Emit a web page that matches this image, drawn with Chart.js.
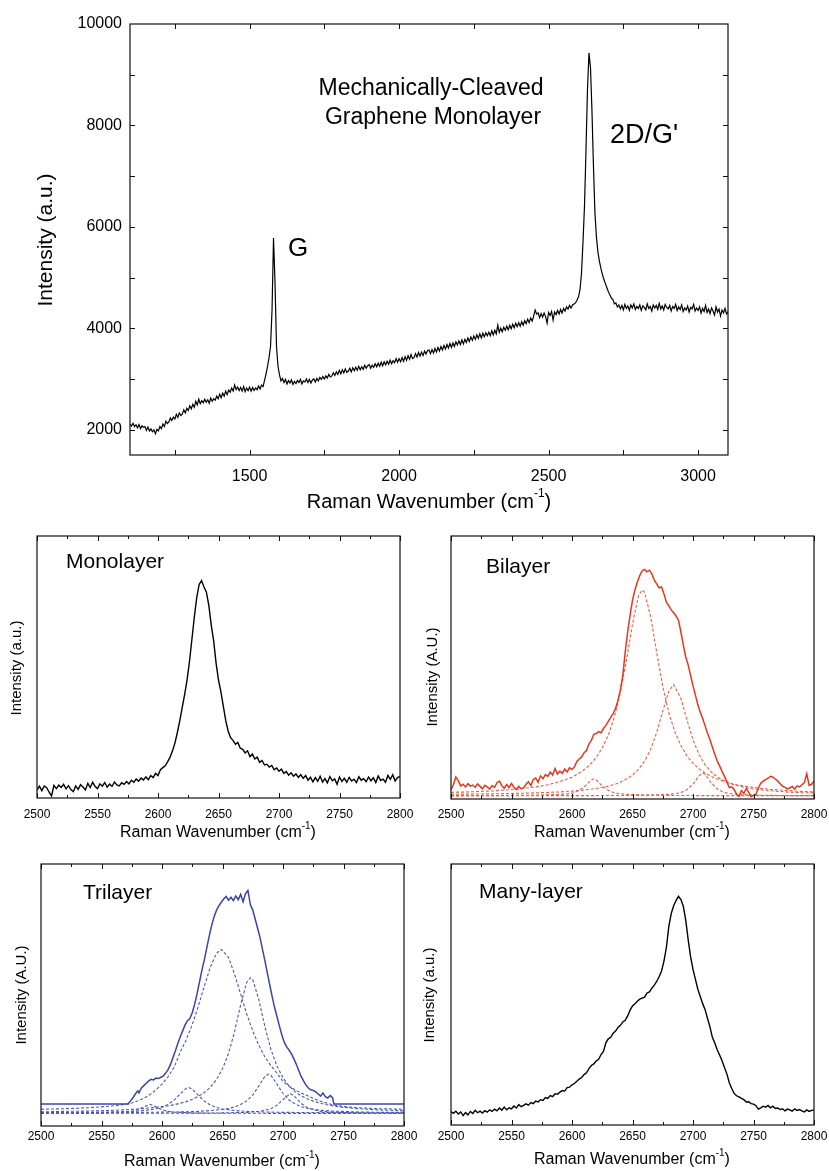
<!DOCTYPE html>
<html>
<head>
<meta charset="utf-8">
<script src="https://cdn.jsdelivr.net/npm/chart.js@4.4.1/dist/chart.umd.min.js"></script>
<style>
  html, body { margin: 0; padding: 0; background: #fff; }
  #wrap { position: relative; width: 829px; height: 1171px; }
  canvas { position: absolute; }
</style>
</head>
<body>
<div id="wrap">
  <canvas id="full"></canvas>
  <canvas id="mono"></canvas>
  <canvas id="bi"></canvas>
  <canvas id="tri"></canvas>
  <canvas id="many"></canvas>
</div>
<script>
const FONT = "'Liberation Sans', Arial, Helvetica, sans-serif";

// wavenumber grids (cm-1)
const seq = (a, b, s) => Array.from({ length: Math.round((b - a) / s) + 1 }, (_, i) => a + i * s);
const fullWave = seq(1100, 3100, 5);
const zoomWave = seq(2500, 2800, 2);

// full spectrum, 1100-3100 cm-1
const fullCounts = [
  2110, 2070, 2125, 2060, 2095, 2035, 2100, 2020, 2075, 2045, 2060, 1985, 2050, 1975, 2015, 1960, 1995, 1920, 2005, 1975,
  2060, 2020, 2110, 2060, 2165, 2120, 2150, 2230, 2180, 2245, 2210, 2300, 2240, 2330, 2280, 2310, 2390, 2330, 2420, 2380,
  2470, 2410, 2500, 2440, 2560, 2490, 2600, 2510, 2570, 2530, 2600, 2540, 2590, 2520, 2620, 2560, 2610, 2580, 2660, 2610,
  2700, 2630, 2720, 2660, 2760, 2690, 2780, 2740, 2820, 2760, 2880, 2790, 2840, 2770, 2830, 2760, 2850, 2750, 2820, 2770,
  2840, 2760, 2830, 2770, 2820, 2790, 2860, 2800, 2880, 2850, 2970, 3100, 3250, 3420, 3640, 4350, 5780, 4900, 3640, 3250,
  3080, 2960, 3010, 2930, 2990, 2900, 2970, 2920, 2980, 2890, 2950, 2910, 2970, 2930, 2990, 2900, 2960, 2940, 3000, 2930,
  2990, 2920, 2980, 3000, 2940, 3010, 2960, 3030, 2990, 3050, 3000, 3060, 3020, 3090, 3040, 3060, 3120, 3070, 3140, 3090,
  3170, 3100, 3180, 3120, 3200, 3130, 3150, 3210, 3140, 3220, 3160, 3230, 3170, 3250, 3180, 3240, 3190, 3270, 3210, 3260,
  3280, 3210, 3270, 3230, 3300, 3240, 3310, 3250, 3330, 3260, 3340, 3280, 3350, 3290, 3370, 3300, 3360, 3320, 3400, 3330,
  3400, 3340, 3420, 3350, 3440, 3370, 3460, 3390, 3480, 3400, 3420, 3500, 3430, 3520, 3450, 3530, 3460, 3550, 3490, 3560,
  3570, 3500, 3580, 3510, 3600, 3530, 3620, 3550, 3640, 3570, 3660, 3590, 3680, 3610, 3700, 3620, 3710, 3640, 3730, 3670,
  3750, 3680, 3770, 3690, 3780, 3720, 3810, 3740, 3830, 3760, 3850, 3780, 3870, 3800, 3890, 3810, 3900, 3830, 3910, 3850,
  3920, 3850, 3950, 3870, 3960, 3890, 4060, 3920, 4000, 3930, 4020, 3960, 4040, 3970, 4060, 3990, 4080, 4010, 4100, 4030,
  4110, 4040, 4130, 4060, 4150, 4090, 4180, 4110, 4200, 4140, 4240, 4360, 4280, 4300, 4210, 4290, 4220, 4300, 4230, 4100,
  4310, 4250, 4330, 4160, 4320, 4270, 4350, 4280, 4370, 4300, 4390, 4340, 4420, 4380, 4450, 4400, 4460, 4480, 4500, 4550,
  4620, 4760, 5080, 5700, 6400, 7500, 8700, 9430, 9150, 8300, 7200, 6270, 5800, 5500, 5320, 5180, 5060, 4960, 4880, 4800,
  4720, 4660, 4590, 4570, 4480, 4500, 4420, 4460, 4380, 4450, 4360, 4470, 4390, 4440, 4350, 4460, 4400, 4480, 4370, 4430,
  4390, 4460, 4350, 4440, 4410, 4360, 4480, 4390, 4430, 4340, 4460, 4400, 4450, 4370, 4490, 4380, 4440, 4360, 4470, 4410,
  4380, 4450, 4340, 4430, 4390, 4470, 4350, 4420, 4370, 4460, 4330, 4400, 4360, 4440, 4320, 4410, 4380, 4470, 4340, 4400,
  4350, 4420, 4300, 4390, 4330, 4450, 4310, 4380, 4290, 4400, 4340, 4260, 4420, 4320, 4380, 4240, 4360, 4300, 4390, 4280,
  4330
];

// 2D band close-ups, 2500-2800 cm-1 (normalised intensity)
const monoCounts = [
  3.0, 4.5, 2.8, 4.6, 3.9, 2.2, 0.8, 4.8, 3.6, 4.9,
  4.0, 5.2, 3.5, 4.7, 3.2, 2.4, 4.6, 3.3, 5.1, 4.2,
  3.1, 5.6, 4.0, 6.0, 4.4, 3.6, 5.4, 4.5, 5.9, 4.1,
  5.3, 4.4, 6.1, 5.0, 4.6, 5.8, 5.2, 6.3, 5.4, 6.8,
  6.0, 7.2, 6.4, 7.6, 6.9, 8.1, 7.0, 8.6, 7.8, 9.4,
  8.6, 10.8, 11.6, 12.3, 13.9, 15.6, 18.0, 21.0, 25.0, 29.5,
  34.5, 39.5, 45.0, 52.0, 60.5, 69.0, 76.5, 81.5, 83.0, 80.5,
  78.5, 73.5, 66.0, 60.0, 51.5, 45.0, 40.5, 35.0, 29.5, 25.5,
  23.0, 22.0, 20.5, 21.2, 19.0, 18.6, 17.2, 18.0, 15.8, 16.8,
  14.9, 15.6, 13.6, 14.3, 12.6, 12.9, 11.8, 12.4, 10.8, 11.5,
  10.2, 11.0, 9.4, 10.1, 8.7, 9.6, 8.3, 9.2, 7.9, 8.9,
  7.5, 8.6, 6.8, 7.9, 6.2, 7.8, 6.4, 8.3, 6.1, 7.4,
  5.8, 8.2, 6.6, 7.3, 5.2, 8.0, 6.3, 7.5, 6.0, 7.9,
  6.5, 7.2, 5.9, 8.1, 6.8, 7.4, 6.2, 8.0, 6.6, 7.7,
  5.9, 8.4, 6.7, 7.2, 6.0, 8.6, 7.1, 8.9, 6.5, 7.8,
  8.2
];

const biCounts = [
  3.5, 5.5, 8.4, 7.0, 5.0, 5.6, 4.6, 5.8, 4.9, 5.3,
  4.4, 5.7, 4.8, 3.9, 5.2, 4.6, 3.8, 5.1, 4.4, 6.2,
  6.8, 5.0, 4.1, 5.5, 4.3, 5.9, 4.5, 3.6, 4.8, 3.9,
  4.2, 5.6, 6.6, 5.1, 7.4, 8.0, 6.4, 8.8, 7.7, 9.3,
  8.6, 10.2, 9.1, 11.6, 9.5, 10.6, 9.8, 11.4, 10.3, 11.9,
  11.2, 12.2, 14.3, 15.2, 16.0, 17.6, 18.4, 21.0, 22.3, 24.6,
  24.9, 25.6, 25.2, 26.8, 28.0, 29.5, 31.0, 32.5, 34.5, 37.5,
  41.5, 47.0, 56.0, 63.5, 70.0, 75.5, 79.5, 82.5, 85.0, 86.8,
  87.3, 86.4, 87.0, 85.6, 83.2, 81.8, 80.3, 80.6, 78.0, 74.8,
  73.5, 71.9, 70.8, 69.6, 68.0, 63.5, 58.5, 54.0, 51.0, 47.0,
  43.0, 39.5, 35.8, 33.0, 30.6, 27.8, 25.0, 22.6, 19.8, 17.0,
  14.5, 12.6, 10.5, 8.6, 6.5, 4.3, 4.6, 3.6, 1.9, 1.0,
  3.2, 2.1, 4.0, 2.5, 0.9, 1.4, 1.8, 4.2, 6.0, 6.8,
  7.4, 7.9, 8.6, 8.3, 7.6, 6.9, 5.8, 4.9, 4.4, 3.9,
  4.2, 4.8, 3.8, 5.0, 4.6, 5.4, 6.2, 9.6, 5.2, 5.6,
  6.8
];

const manyCounts = [
  5.1, 4.5, 5.3, 4.2, 5.0, 3.6, 4.8, 3.9, 5.2, 4.4,
  5.6, 4.7, 5.3, 4.6, 5.5, 4.9, 5.8, 5.2, 6.1, 5.4,
  6.5, 5.7, 6.9, 5.8, 6.6, 6.2, 7.3, 6.5, 7.8, 7.0,
  7.5, 8.1, 7.6, 8.6, 8.2, 9.2, 8.8, 9.7, 9.4, 10.5,
  10.2, 11.3, 10.9, 12.0, 11.8, 12.6, 13.2, 13.0, 14.3, 14.5,
  15.4, 15.9, 16.8, 17.6, 18.2, 19.3, 20.0, 21.6, 22.8, 23.4,
  24.5, 25.2, 27.0, 28.2, 31.5, 33.0, 33.6, 35.2, 36.0, 37.4,
  38.2, 39.5, 40.1, 41.8, 44.0, 45.6, 46.5, 47.4, 48.2, 48.6,
  49.0, 50.6, 51.0, 52.4, 53.6, 55.0, 56.8, 59.0, 62.8, 68.0,
  76.0, 81.0, 84.0, 86.0, 87.6, 86.4, 83.8, 78.5, 71.0, 64.5,
  59.6, 55.8, 52.0, 49.2, 46.5, 44.2, 40.8, 37.6, 33.6, 31.4,
  28.8, 26.8, 24.6, 22.0, 19.6, 16.2, 14.0, 12.1, 11.2, 10.8,
  10.2, 9.7, 8.8, 8.9, 8.2, 8.0, 7.4, 6.1, 6.6, 7.2,
  6.8, 7.5, 6.6, 7.2, 6.3, 6.5, 5.9, 6.2, 5.4, 6.1,
  5.8, 5.3, 6.2, 5.6, 5.9, 5.4, 5.0, 5.8, 5.2, 5.6,
  5.7
];

// trilayer spectrum as [wavenumber, intensity]
const triCounts = [
  [2500, 8.4], [2572, 8.4], [2574, 9.6], [2576, 10.8], [2578, 12.2], [2580, 13.4], [2581, 12.6], [2583, 14.5],
  [2585, 15.4], [2587, 16.3], [2589, 17.2], [2591, 17.8], [2593, 17.6], [2595, 18.3], [2597, 18.1], [2599, 18.6],
  [2601, 19.0], [2603, 20.2], [2605, 21.5], [2607, 23.5], [2609, 26.0], [2611, 28.6], [2613, 31.4], [2615, 34.0],
  [2617, 36.2], [2619, 38.5], [2621, 40.2], [2623, 41.0], [2625, 43.2], [2627, 46.5], [2629, 50.5], [2631, 55.0],
  [2633, 59.5], [2635, 63.5], [2637, 68.0], [2639, 72.5], [2641, 76.5], [2643, 79.8], [2645, 82.3], [2647, 84.0],
  [2649, 85.4], [2651, 86.6], [2653, 87.6], [2655, 86.2], [2657, 87.3], [2659, 86.0], [2661, 87.8], [2663, 86.4],
  [2665, 88.4], [2667, 85.6], [2669, 88.6], [2671, 89.9], [2673, 84.5], [2675, 82.4], [2677, 79.0], [2679, 75.5],
  [2681, 72.0], [2683, 67.5], [2685, 63.2], [2687, 58.5], [2689, 54.0], [2691, 49.5], [2693, 45.3], [2695, 41.8],
  [2697, 38.2], [2699, 34.8], [2701, 32.0], [2703, 30.2], [2705, 29.0], [2707, 27.5], [2709, 25.6], [2711, 23.6],
  [2713, 21.2], [2715, 18.9], [2717, 17.2], [2719, 15.6], [2721, 14.5], [2723, 13.8], [2725, 13.6], [2727, 13.0],
  [2729, 12.3], [2731, 11.4], [2733, 12.6], [2735, 11.2], [2737, 10.7], [2739, 11.6], [2741, 10.8], [2742, 8.4],
  [2800, 8.4]
];

// Lorentzian fit components, bilayer
const biFitMain = [
  [2500, 2.5], [2505, 2.6], [2510, 2.6], [2515, 2.7], [2520, 2.8], [2525, 2.9], [2530, 3.0], [2535, 3.1], [2540, 3.3],
  [2545, 3.4], [2550, 3.6], [2555, 3.8], [2560, 4.1], [2565, 4.3], [2570, 4.6], [2575, 5.0], [2580, 5.4], [2585, 6.0],
  [2590, 6.6], [2595, 7.4], [2600, 8.3], [2605, 9.6], [2610, 11.1], [2615, 13.1], [2620, 15.8], [2625, 19.4],
  [2630, 24.3], [2635, 31.1], [2640, 40.5], [2645, 52.8], [2650, 66.5], [2655, 77.4], [2658, 79.5], [2660, 78.6],
  [2665, 69.3], [2670, 55.7], [2675, 42.8], [2680, 32.8], [2685, 25.5], [2690, 20.3], [2695, 16.4], [2700, 13.6],
  [2705, 11.5], [2710, 9.8], [2715, 8.6], [2720, 7.6], [2725, 6.8], [2730, 6.1], [2735, 5.5], [2740, 5.1], [2745, 4.7],
  [2750, 4.4], [2755, 4.1], [2760, 3.9], [2765, 3.6], [2770, 3.5], [2775, 3.3], [2780, 3.2], [2785, 3.0], [2790, 2.9],
  [2795, 2.8], [2800, 2.7]
];
const biFitHigh = [
  [2500, 1.8], [2520, 1.9], [2540, 2.0], [2560, 2.2], [2580, 2.5], [2590, 2.7], [2600, 3.0], [2610, 3.4], [2620, 4.0],
  [2625, 4.4], [2630, 4.9], [2635, 5.5], [2640, 6.4], [2645, 7.6], [2650, 9.1], [2655, 11.3], [2660, 14.4],
  [2665, 18.9], [2670, 25.3], [2675, 33.4], [2680, 41.0], [2684, 43.5], [2690, 38.3], [2695, 30.1], [2700, 22.5],
  [2705, 16.9], [2710, 13.0], [2715, 10.3], [2720, 8.4], [2725, 7.1], [2730, 6.0], [2735, 5.3], [2740, 4.7],
  [2745, 4.2], [2750, 3.8], [2760, 3.3], [2770, 2.9], [2780, 2.6], [2790, 2.4], [2800, 2.3]
];
const biFitLow = [
  [2500, 1.3], [2540, 1.3], [2560, 1.4], [2570, 1.5], [2580, 1.6], [2590, 1.8], [2595, 1.9], [2600, 2.2], [2605, 3.1],
  [2610, 4.5], [2615, 6.9], [2618, 7.7], [2620, 7.3], [2625, 4.9], [2630, 3.3], [2635, 2.3], [2640, 2.0], [2645, 1.8],
  [2650, 1.7], [2655, 1.6], [2660, 1.5], [2670, 1.4], [2700, 1.3], [2800, 1.3]
];
const biFitSide = [
  [2500, 1.2], [2620, 1.3], [2660, 1.4], [2670, 1.6], [2675, 1.7], [2680, 1.8], [2685, 2.0], [2690, 2.4], [2695, 3.6],
  [2700, 5.6], [2705, 8.8], [2708, 9.9], [2710, 9.4], [2715, 6.1], [2720, 3.9], [2725, 2.6], [2730, 2.1], [2735, 1.9],
  [2740, 1.7], [2745, 1.6], [2750, 1.5], [2760, 1.4], [2780, 1.3], [2800, 1.3]
];

// Lorentzian fit components, trilayer
const triFitA = [
  [2500, 6.4], [2510, 6.5], [2520, 6.6], [2530, 6.8], [2540, 7.0], [2550, 7.3], [2560, 7.7], [2570, 8.3], [2575, 8.8],
  [2580, 9.6], [2585, 10.6], [2590, 12.0], [2595, 13.8], [2600, 16.0], [2605, 18.8], [2610, 22.4], [2615, 28.1],
  [2620, 32.9], [2625, 38.7], [2630, 45.7], [2635, 53.4], [2640, 60.7], [2645, 65.9], [2649, 67.4], [2655, 64.3],
  [2660, 57.9], [2665, 50.3], [2670, 42.8], [2675, 36.3], [2680, 30.8], [2685, 26.4], [2690, 23.0], [2695, 20.2],
  [2700, 17.0], [2705, 15.2], [2710, 13.8], [2715, 12.6], [2720, 11.6], [2730, 9.6], [2740, 8.2], [2750, 7.4],
  [2760, 7.0], [2770, 6.8], [2780, 6.6], [2790, 6.5], [2800, 6.4]
];
const triFitB = [
  [2500, 5.4], [2520, 5.6], [2540, 5.7], [2560, 6.0], [2570, 6.2], [2580, 6.5], [2590, 6.9], [2600, 7.4], [2605, 7.7],
  [2610, 8.1], [2615, 8.7], [2620, 9.3], [2625, 10.2], [2630, 11.3], [2635, 12.8], [2640, 14.8], [2645, 17.7],
  [2650, 21.8], [2655, 27.7], [2660, 36.1], [2665, 46.3], [2670, 54.8], [2673, 56.6], [2675, 55.8], [2680, 48.3],
  [2685, 38.0], [2690, 29.2], [2695, 22.9], [2700, 18.4], [2705, 15.3], [2710, 13.1], [2715, 11.5], [2720, 10.4],
  [2725, 9.5], [2730, 8.8], [2735, 8.2], [2740, 7.8], [2750, 7.1], [2760, 6.7], [2770, 6.4], [2780, 6.1],
  [2790, 6.0], [2800, 5.8]
];
const triFitC = [
  [2500, 5.1], [2540, 5.2], [2560, 5.4], [2570, 5.5], [2580, 5.7], [2590, 6.2], [2595, 6.6], [2600, 7.2], [2605, 8.2],
  [2610, 9.9], [2615, 12.2], [2620, 14.4], [2622, 14.7], [2625, 14.1], [2630, 11.7], [2635, 9.5], [2640, 8.0],
  [2645, 7.1], [2650, 6.5], [2660, 5.9], [2670, 5.6], [2680, 5.4], [2700, 5.2], [2740, 5.1], [2800, 5.05]
];
const triFitD = [
  [2500, 5.05], [2580, 5.2], [2600, 5.3], [2620, 5.4], [2630, 5.6], [2640, 5.9], [2650, 6.3], [2655, 6.7], [2660, 7.3],
  [2665, 8.2], [2670, 9.6], [2675, 11.8], [2680, 15.3], [2685, 18.9], [2688, 19.8], [2690, 19.4], [2695, 16.0],
  [2700, 12.4], [2705, 9.9], [2710, 8.4], [2715, 7.4], [2720, 6.8], [2730, 6.1], [2740, 5.7], [2760, 5.4],
  [2780, 5.2], [2800, 5.2]
];
const triFitE = [
  [2500, 4.85], [2550, 4.9], [2570, 5.3], [2575, 5.6], [2580, 6.2], [2585, 7.3], [2590, 8.3], [2595, 7.3], [2600, 6.2],
  [2605, 5.6], [2610, 5.3], [2630, 4.9], [2700, 4.82], [2800, 4.8]
];
const triFitF = [
  [2500, 4.8], [2620, 4.9], [2650, 5.0], [2670, 5.2], [2680, 5.6], [2685, 6.0], [2690, 6.6], [2695, 7.9], [2700, 10.1],
  [2706, 12.4], [2710, 11.1], [2715, 8.6], [2720, 7.0], [2725, 6.2], [2730, 5.7], [2740, 5.3], [2760, 5.0], [2800, 4.9]
];

// axis ticks
const fullXLabels = [1500, 2000, 2500, 3000];
const fullXMarks = [1250, 1500, 1750, 2000, 2250, 2500, 2750, 3000];
const fullYLabels = [2000, 4000, 6000, 8000, 10000];
const fullYMarks = [2000, 3000, 4000, 5000, 6000, 7000, 8000, 9000];
const zoomXLabels = [2500, 2550, 2600, 2650, 2700, 2750, 2800];
const zoomXMinor = [2525, 2575, 2625, 2675, 2725, 2775];

const RED = '#e8361c', RED_FIT = '#ee5b40';
const BLUE = '#3c44a8', BLUE_FIT = '#4d57b8';

const toXY = (xs, ys) => ys.map((y, i) => ({ x: xs[i], y }));
const fromPairs = p => p.map(([x, y]) => ({ x, y }));

Chart.defaults.font.family = FONT;
Chart.defaults.color = '#000';

function drawXTitle(ctx, cx, cy, size) {
  const main = 'Raman Wavenumber (cm', sup = '-1', tail = ')';
  const big = size + 'px ' + FONT, small = Math.round(size * 0.62) + 'px ' + FONT;
  ctx.font = big;
  const w1 = ctx.measureText(main).width, w3 = ctx.measureText(tail).width;
  ctx.font = small;
  const w2 = ctx.measureText(sup).width;
  let x = cx - (w1 + w2 + w3) / 2;
  ctx.textAlign = 'left';
  ctx.textBaseline = 'middle';
  ctx.font = big; ctx.fillText(main, x, cy); x += w1;
  ctx.font = small; ctx.fillText(sup, x, cy - size * 0.4); x += w2;
  ctx.font = big; ctx.fillText(tail, x, cy);
}

// box frame, inward tick marks and annotations
const frame = {
  id: 'frame',
  afterDraw(chart, args, o) {
    const { ctx, chartArea: a, scales: { x, y } } = chart;
    ctx.save();
    ctx.strokeStyle = '#111';
    ctx.lineWidth = 1.2;
    ctx.strokeRect(a.left, a.top, a.right - a.left, a.bottom - a.top);
    ctx.lineWidth = 1;
    ctx.beginPath();
    const xTick = (v, len) => {
      const p = Math.round(x.getPixelForValue(v)) + 0.5;
      ctx.moveTo(p, a.bottom); ctx.lineTo(p, a.bottom - len);
      ctx.moveTo(p, a.top); ctx.lineTo(p, a.top + len);
    };
    const yTick = (v, len) => {
      const p = Math.round(y.getPixelForValue(v)) + 0.5;
      ctx.moveTo(a.left, p); ctx.lineTo(a.left + len, p);
      ctx.moveTo(a.right, p); ctx.lineTo(a.right - len, p);
    };
    (o.xMajor || []).forEach(v => xTick(v, o.majorLen));
    (o.xMinor || []).forEach(v => xTick(v, o.minorLen));
    (o.yMajor || []).forEach(v => yTick(v, o.majorLen));
    ctx.stroke();

    ctx.fillStyle = '#000';
    (o.notes || []).forEach(n => {
      ctx.font = n.size + 'px ' + FONT;
      ctx.textAlign = n.align || 'center';
      ctx.textBaseline = 'middle';
      ctx.fillText(n.text, n.x, n.y);
    });
    if (o.yTitle) {
      const t = o.yTitle;
      ctx.save();
      ctx.translate(t.x, t.y);
      ctx.rotate(-Math.PI / 2);
      ctx.font = t.size + 'px ' + FONT;
      ctx.textAlign = 'center';
      ctx.textBaseline = 'middle';
      ctx.fillText(t.text, 0, 0);
      ctx.restore();
    }
    if (o.xTitle) drawXTitle(ctx, o.xTitle.x, o.xTitle.y, o.xTitle.size);
    ctx.restore();
  }
};

function makeChart(id, box, area, spec) {
  const cv = document.getElementById(id);
  cv.width = box.w;
  cv.height = box.h;
  cv.style.left = box.x + 'px';
  cv.style.top = box.y + 'px';
  const showY = !!spec.yLabels;
  return new Chart(cv, {
    type: 'line',
    data: { datasets: spec.datasets },
    plugins: [frame],
    options: {
      responsive: false,
      animation: false,
      devicePixelRatio: 1,
      events: [],
      layout: { padding: { left: showY ? 0 : area.l, right: box.w - area.r, top: area.t, bottom: 0 } },
      elements: { point: { radius: 0 }, line: { tension: 0 } },
      plugins: { legend: { display: false }, tooltip: { enabled: false }, frame: spec.frame },
      scales: {
        x: {
          type: 'linear', min: spec.xMin, max: spec.xMax,
          grid: { display: false, drawTicks: false }, border: { display: false },
          afterBuildTicks: s => { s.ticks = spec.xLabels.map(v => ({ value: v })); },
          afterFit: s => { s.height = box.h - area.b; s.paddingLeft = 0; s.paddingRight = 0; },
          ticks: { padding: spec.xPad, font: { size: spec.tickSize }, maxRotation: 0, autoSkip: false, callback: v => String(v) }
        },
        y: {
          display: showY, min: spec.yMin, max: spec.yMax,
          grid: { display: false, drawTicks: false }, border: { display: false },
          afterBuildTicks: s => { if (showY) s.ticks = spec.yLabels.map(v => ({ value: v })); },
          afterFit: s => { if (showY) { s.width = area.l; s.paddingTop = 0; s.paddingBottom = 0; } },
          ticks: { padding: 8, font: { size: spec.tickSize }, callback: v => String(v) }
        }
      }
    }
  });
}

const solid = (data, color, width) => ({ data, borderColor: color, borderWidth: width, fill: false });
const dashed = (data, color) => ({ data, borderColor: color, borderWidth: 1.1, borderDash: [3, 2], fill: false });

// full spectrum
makeChart('full', { x: 0, y: 0, w: 829, h: 520 }, { l: 130, t: 24, r: 728, b: 455 }, {
  xMin: 1100, xMax: 3100, yMin: 1500, yMax: 10000,
  xLabels: fullXLabels, yLabels: fullYLabels, tickSize: 16, xPad: 12,
  datasets: [solid(toXY(fullWave, fullCounts), '#000', 1.2)],
  frame: {
    xMajor: fullXMarks, yMajor: fullYMarks, majorLen: 5, minorLen: 5,
    notes: [
      { text: 'Mechanically-Cleaved', x: 431, y: 89, size: 23 },
      { text: 'Graphene Monolayer', x: 433, y: 118, size: 23 },
      { text: 'G', x: 298, y: 249, size: 26 },
      { text: "2D/G'", x: 644, y: 136, size: 27 }
    ],
    yTitle: { text: 'Intensity (a.u.)', x: 46, y: 240, size: 21 },
    xTitle: { x: 429, y: 502, size: 20 }
  }
});

const zoomFrame = (name, nx, ny, yTitle, tx, ty, cx, cy) => ({
  xMajor: zoomXLabels, xMinor: zoomXMinor, majorLen: 5, minorLen: 3,
  notes: [{ text: name, x: nx, y: ny, size: 21, align: 'left' }],
  yTitle: { text: yTitle, x: tx, y: ty, size: 15 },
  xTitle: { x: cx, y: cy, size: 16 }
});

// monolayer
makeChart('mono', { x: 0, y: 520, w: 415, h: 330 }, { l: 37, t: 16, r: 400, b: 278 }, {
  xMin: 2500, xMax: 2800, yMin: 0, yMax: 100, xLabels: zoomXLabels, tickSize: 12, xPad: 9,
  datasets: [solid(toXY(zoomWave, monoCounts), '#000', 1.4)],
  frame: zoomFrame('Monolayer', 66, 42, 'Intensity (a.u.)', 17, 148, 218, 313)
});

// bilayer
makeChart('bi', { x: 415, y: 520, w: 414, h: 330 }, { l: 36, t: 16, r: 399, b: 279 }, {
  xMin: 2500, xMax: 2800, yMin: 0, yMax: 100, xLabels: zoomXLabels, tickSize: 12, xPad: 8,
  datasets: [
    solid(toXY(zoomWave, biCounts), RED, 1.5),
    dashed(fromPairs(biFitMain), RED_FIT),
    dashed(fromPairs(biFitHigh), RED_FIT),
    dashed(fromPairs(biFitLow), RED_FIT),
    dashed(fromPairs(biFitSide), RED_FIT)
  ],
  frame: zoomFrame('Bilayer', 71, 47, 'Intensity (A.U.)', 18, 157, 217, 313)
});

// trilayer
makeChart('tri', { x: 0, y: 850, w: 420, h: 321 }, { l: 41, t: 14, r: 404, b: 276 }, {
  xMin: 2500, xMax: 2800, yMin: 0, yMax: 100, xLabels: zoomXLabels, tickSize: 12, xPad: 3,
  datasets: [
    solid(fromPairs(triCounts), BLUE, 1.5),
    dashed(fromPairs(triFitA), BLUE_FIT),
    dashed(fromPairs(triFitB), BLUE_FIT),
    dashed(fromPairs(triFitC), BLUE_FIT),
    dashed(fromPairs(triFitD), BLUE_FIT),
    dashed(fromPairs(triFitE), BLUE_FIT),
    dashed(fromPairs(triFitF), BLUE_FIT)
  ],
  frame: zoomFrame('Trilayer', 83, 43, 'Intensity (A.U.)', 22, 145, 222, 312)
});

// many-layer
makeChart('many', { x: 420, y: 850, w: 409, h: 321 }, { l: 31, t: 14, r: 394, b: 275 }, {
  xMin: 2500, xMax: 2800, yMin: 0, yMax: 100, xLabels: zoomXLabels, tickSize: 12, xPad: 4,
  datasets: [solid(toXY(zoomWave, manyCounts), '#000', 1.4)],
  frame: zoomFrame('Many-layer', 59, 42, 'Intensity (a.u.)', 10, 145, 212, 310)
});
</script>
</body>
</html>
